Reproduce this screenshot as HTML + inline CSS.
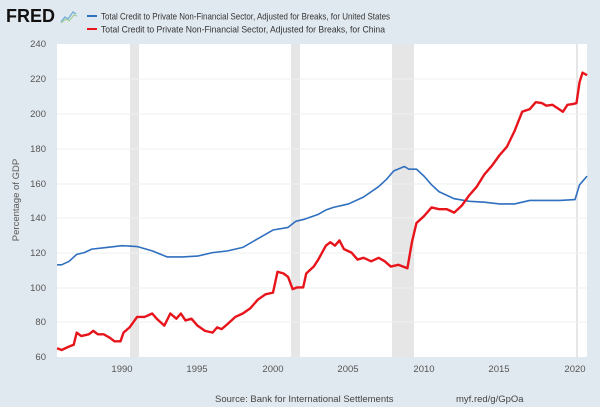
<!DOCTYPE html>
<html><head><meta charset="utf-8"><style>
body{margin:0;width:600px;height:407px;background:#e1e9f0;font-family:"Liberation Sans",sans-serif;overflow:hidden}
</style></head><body>
<svg width="600" height="407" xmlns="http://www.w3.org/2000/svg" style="position:absolute;left:0;top:0">
<rect width="600" height="407" fill="#e1e9f0"/>
<text x="6" y="22" font-family="Liberation Sans" font-weight="bold" font-size="18" fill="#111" textLength="49" lengthAdjust="spacingAndGlyphs">FRED</text>
<polyline points="61,22 65,17 68,19 73,12 76,14" fill="none" stroke="#7bb3d6" stroke-width="1.5"/>
<polyline points="61,23 66,19 69,21 74,15 77,16" fill="none" stroke="#9ecb8a" stroke-width="1"/>
<line x1="87" y1="16" x2="97" y2="16" stroke="#2f6fbf" stroke-width="2"/>
<line x1="87" y1="29" x2="97" y2="29" stroke="#e8141b" stroke-width="2"/>
<text x="101" y="19.5" font-size="9.5" fill="#333" textLength="289" lengthAdjust="spacingAndGlyphs">Total Credit to Private Non-Financial Sector, Adjusted for Breaks, for United States</text>
<text x="101" y="32.5" font-size="9.5" fill="#333" textLength="284" lengthAdjust="spacingAndGlyphs">Total Credit to Private Non-Financial Sector, Adjusted for Breaks, for China</text>
<rect x="57" y="44" width="530" height="313" fill="#fff"/>
<g fill="#e6e6e6"><rect x="130" y="44" width="9" height="313"/><rect x="291" y="44" width="9" height="313"/><rect x="392" y="44" width="22" height="313"/><rect x="576" y="44" width="2" height="313"/></g>
<g stroke="#eef0f2" stroke-width="1">
<line x1="57" x2="587" y1="79" y2="79"/><line x1="57" x2="587" y1="114" y2="114"/><line x1="57" x2="587" y1="149" y2="149"/><line x1="57" x2="587" y1="184" y2="184"/><line x1="57" x2="587" y1="218" y2="218"/><line x1="57" x2="587" y1="253" y2="253"/><line x1="57" x2="587" y1="288" y2="288"/><line x1="57" x2="587" y1="322" y2="322"/>
</g>
<g font-size="9.5" fill="#555" text-anchor="end">
<text x="46" y="47">240</text><text x="46" y="82">220</text><text x="46" y="117">200</text><text x="46" y="152">180</text><text x="46" y="187">160</text><text x="46" y="221">140</text><text x="46" y="256">120</text><text x="46" y="291">100</text><text x="46" y="325">80</text><text x="46" y="360">60</text>
</g>
<g font-size="9.5" fill="#555" text-anchor="middle">
<text x="122" y="372">1990</text><text x="197" y="372">1995</text><text x="273" y="372">2000</text><text x="348" y="372">2005</text><text x="424" y="372">2010</text><text x="499" y="372">2015</text><text x="575" y="372">2020</text>
</g>
<text transform="translate(19,200) rotate(-90)" font-size="9.5" fill="#555" text-anchor="middle">Percentage of GDP</text>
<text x="215" y="402" font-size="9.5" fill="#444">Source: Bank for International Settlements</text>
<text x="456" y="402" font-size="9.5" fill="#444">myf.red/g/GpOa</text>
<g transform="matrix(15.1 0 0 -1.739 -29927 461.3)" fill="none" stroke-linejoin="round">
<polyline vector-effect="non-scaling-stroke" stroke="#2f6fbf" stroke-width="1.6" points="1985.7,113 1986,113 1986.5,115 1987,119 1987.5,120 1988,122 1989,123 1990,124 1991,123.5 1992,121 1993,117.5 1994,117.5 1995,118 1996,120 1997,121 1998,123 1999,128 2000,133 2001,134.5 2001.5,138 2002,139 2003,142 2003.5,144.5 2004,146 2005,148 2006,152 2007,158 2007.5,162 2008,167 2008.7,169.5 2009,168 2009.5,168 2010,164 2010.5,159 2011,155 2012,151 2013,149.5 2014,149 2015,148 2016,148 2017,150 2018,150 2019,150 2020,150.5 2020.3,159 2020.8,164"/>
<polyline vector-effect="non-scaling-stroke" stroke="#e8141b" stroke-width="2.4" points="1985.7,65 1986,64 1986.5,66 1986.8,67 1987,74 1987.3,72 1987.8,73 1988.1,75 1988.4,73 1988.8,73 1989.2,71 1989.5,69 1989.9,69 1990.1,74 1990.5,77 1991,83 1991.5,83 1992,85 1992.3,82 1992.8,78 1993.2,85 1993.6,82 1993.9,85 1994.2,81 1994.6,82 1995,78 1995.5,75 1996,74 1996.3,77 1996.6,76 1997,79 1997.5,83 1998,85 1998.5,88 1999,93 1999.5,96 2000,97 2000.3,109 2000.7,108 2001,106 2001.3,99 2001.6,100 2002,100 2002.2,108 2002.7,112 2003,116 2003.5,124 2003.8,126 2004.1,124 2004.4,127 2004.7,122 2005.2,120 2005.6,116 2006,117 2006.5,115 2007,117 2007.4,115 2007.8,112 2008.3,113 2008.9,111 2009.2,126 2009.5,137 2010,141 2010.5,146 2011,145 2011.5,145 2012,143 2012.5,147 2013,153 2013.5,158 2014,165 2014.5,170 2015,176 2015.5,181 2016,190 2016.5,201 2017,202.5 2017.4,206.5 2017.8,206 2018.1,204.5 2018.5,205 2019.2,201 2019.5,205 2019.9,205.5 2020.1,206 2020.3,218 2020.5,223.5 2020.8,222"/>
</g>
</svg>
</body></html>
